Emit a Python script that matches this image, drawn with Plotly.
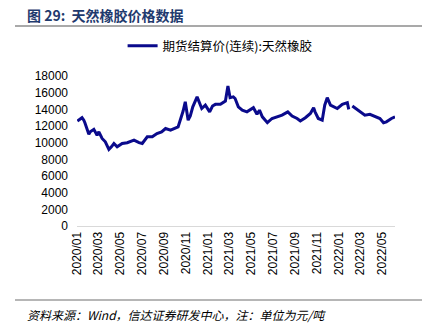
import plotly.graph_objects as go

dates = [
    "2020-01-02", "2020-01-15", "2020-01-20", "2020-01-23", "2020-02-03", "2020-02-07",
    "2020-02-17", "2020-02-26", "2020-03-02", "2020-03-11", "2020-03-20", "2020-03-30",
    "2020-04-06", "2020-04-13", "2020-04-22", "2020-05-06", "2020-05-20", "2020-06-08",
    "2020-06-22", "2020-07-01", "2020-07-15", "2020-07-29", "2020-08-11", "2020-08-24",
    "2020-09-04", "2020-09-18", "2020-10-09", "2020-10-12", "2020-10-19", "2020-10-23",
    "2020-10-29", "2020-11-02", "2020-11-06", "2020-11-12", "2020-11-19", "2020-12-01",
    "2020-12-07", "2020-12-14", "2020-12-24", "2021-01-05", "2021-01-13", "2021-01-21",
    "2021-02-04", "2021-02-18", "2021-02-25", "2021-03-03", "2021-03-12", "2021-03-17",
    "2021-03-26", "2021-04-06", "2021-04-19", "2021-04-28", "2021-05-07", "2021-05-17",
    "2021-05-24", "2021-06-01", "2021-06-15", "2021-06-28", "2021-07-12", "2021-07-26",
    "2021-08-11", "2021-08-23", "2021-09-06", "2021-09-15", "2021-09-29", "2021-10-13",
    "2021-10-22", "2021-10-26", "2021-11-04", "2021-11-15", "2021-11-22", "2021-11-29",
    "2021-12-08", "2021-12-16", "2021-12-27", "2022-01-10", "2022-01-24", "2022-01-28",
    "2022-02-03", "2022-02-07", "2022-02-17", "2022-02-28", "2022-03-14", "2022-03-28",
    "2022-04-11", "2022-04-25", "2022-05-05", "2022-05-13", "2022-05-27", "2022-06-06",
]
prices = [
    12600, 13000, 12700, 12400, 11000, 11300,
    11600, 10900, 11300, 10500, 10100, 9200,
    9500, 9900, 9500, 9900, 10000, 10300,
    10000, 9900, 10700, 10700, 11100, 11300,
    11700, 11500, 11900, 12300, 13000, 13800,
    14900, 13900, 12700, 13200, 14300, 15500,
    14800, 14100, 14500, 13700, 14400, 14600,
    14600, 15000, 16800, 15400, 15500, 15300,
    14300, 13900, 13700, 13900, 14200, 13400,
    13900, 13100, 12400, 12900, 13100, 13300,
    13700, 13200, 12900, 12600, 13000, 13500,
    14200, 13700, 12900, 12700, 14500, 15400,
    14500, 14300, 14100, 14600, 14800, 14000,
    None, 14400, 14100, 13700, 13300, 13400,
    13100, 12900, 12400, 12500, 12900, 13100,
]
series_name = "期货结算价(连续):天然橡胶"
title_text = "图 29:  天然橡胶价格数据"
source_text = "资料来源：Wind，信达证券研发中心，注：单位为元/吨"
y_ticks = [0, 2000, 4000, 6000, 8000, 10000, 12000, 14000, 16000, 18000]

fig = go.Figure()
fig.add_trace(go.Scatter(
    x=dates, y=prices, mode="lines", name=series_name,
    line=dict(color="#0A0A8C", width=3), connectgaps=False,
))

W, H = 431, 328
fig.update_layout(
    width=W, height=H,
    margin=dict(l=77, r=36, t=76, b=102),
    paper_bgcolor="white", plot_bgcolor="white",
    font=dict(family="Liberation Sans, Arial, sans-serif", size=12, color="#000000"),
    showlegend=True,
    legend=dict(
        orientation="h", x=0.45, xanchor="center", y=1.2, yanchor="middle",
        font=dict(family="Noto Sans CJK SC", size=12.5, color="#000000"),
        itemwidth=30, bgcolor="rgba(0,0,0,0)",
    ),
    xaxis=dict(
        type="date", range=["2020-01-01", "2022-06-06"],
        tickformat="%Y/%m", dtick="M2", tick0="2020-01-01",
        tickangle=-90, showgrid=False, zeroline=False,
        showline=True, linecolor="#D9D9D9", linewidth=1,
        ticks="", tickfont=dict(size=12, family="Liberation Sans, Arial"),
    ),
    yaxis=dict(
        range=[0, 18000], tickvals=y_ticks, tickformat="d",
        showgrid=False, zeroline=False,
        showline=False, ticks="", tickfont=dict(size=12, family="Liberation Sans, Arial"),
        ticklabelstandoff=8,
    ),
)

fig.add_annotation(
    text="<b>" + title_text + "</b>", xref="paper", yref="paper",
    x=(25 - 77) / 318, y=(226 - 15) / 150, xanchor="left", yanchor="middle",
    showarrow=False, font=dict(family="Noto Sans CJK SC", size=14, color="#1F3A6E"),
)
fig.add_shape(type="line", xref="paper", yref="paper",
              x0=(15 - 77) / 318, x1=(422 - 77) / 318,
              y0=(226 - 26) / 150, y1=(226 - 26) / 150,
              line=dict(color="#8C8C8C", width=1.5))
fig.add_shape(type="line", xref="paper", yref="paper",
              x0=(15 - 77) / 318, x1=(422 - 77) / 318,
              y0=(226 - 300) / 150, y1=(226 - 300) / 150,
              line=dict(color="#6E6E6E", width=1.2))
fig.add_annotation(
    text="<i>" + source_text + "</i>", xref="paper", yref="paper",
    x=(25 - 77) / 318, y=(226 - 314) / 150, xanchor="left", yanchor="middle",
    showarrow=False, font=dict(family="Noto Sans CJK SC", size=12, color="#000000"),
)

fig.write_html("out.html")
